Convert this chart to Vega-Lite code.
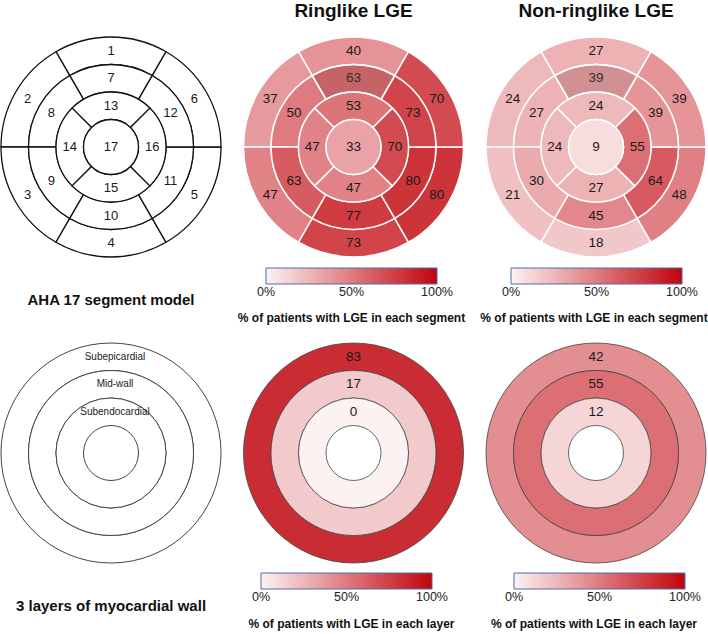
{
  "$schema": "https://vega.github.io/schema/vega-lite/v6.json",
  "width": 708,
  "height": 634,
  "autosize": {"type": "none"},
  "padding": 0,
  "background": "white",
  "config": {
    "view": {"stroke": null},
    "font": "Liberation Sans",
    "legend": {
      "gradientStrokeColor": "#4a6cb3",
      "gradientStrokeWidth": 1,
      "labelFont": "Liberation Sans",
      "labelFontSize": 12.5,
      "labelColor": "#222222",
      "labelOffset": 8,
      "padding": 0
    }
  },
  "datasets": {
    "segments": [
      {"seg": 1, "r1": 4, "r0": 3, "t0": -30, "t1": 30, "tm": 0, "rm": 3.5, "ringlike": 40, "nonringlike": 27},
      {"seg": 2, "r1": 4, "r0": 3, "t0": 270, "t1": 330, "tm": 300, "rm": 3.5, "ringlike": 37, "nonringlike": 24},
      {"seg": 3, "r1": 4, "r0": 3, "t0": 210, "t1": 270, "tm": 240, "rm": 3.5, "ringlike": 47, "nonringlike": 21},
      {"seg": 4, "r1": 4, "r0": 3, "t0": 150, "t1": 210, "tm": 180, "rm": 3.5, "ringlike": 73, "nonringlike": 18},
      {"seg": 5, "r1": 4, "r0": 3, "t0": 90, "t1": 150, "tm": 120, "rm": 3.5, "ringlike": 80, "nonringlike": 48},
      {"seg": 6, "r1": 4, "r0": 3, "t0": 30, "t1": 90, "tm": 60, "rm": 3.5, "ringlike": 70, "nonringlike": 39},
      {"seg": 7, "r1": 3, "r0": 2, "t0": -30, "t1": 30, "tm": 0, "rm": 2.5, "ringlike": 63, "nonringlike": 39},
      {"seg": 8, "r1": 3, "r0": 2, "t0": 270, "t1": 330, "tm": 300, "rm": 2.5, "ringlike": 50, "nonringlike": 27},
      {"seg": 9, "r1": 3, "r0": 2, "t0": 210, "t1": 270, "tm": 240, "rm": 2.5, "ringlike": 63, "nonringlike": 30},
      {"seg": 10, "r1": 3, "r0": 2, "t0": 150, "t1": 210, "tm": 180, "rm": 2.5, "ringlike": 77, "nonringlike": 45},
      {"seg": 11, "r1": 3, "r0": 2, "t0": 90, "t1": 150, "tm": 120, "rm": 2.5, "ringlike": 80, "nonringlike": 64},
      {"seg": 12, "r1": 3, "r0": 2, "t0": 30, "t1": 90, "tm": 60, "rm": 2.5, "ringlike": 73, "nonringlike": 39},
      {"seg": 13, "r1": 2, "r0": 1, "t0": -45, "t1": 45, "tm": 0, "rm": 1.5, "ringlike": 53, "nonringlike": 24},
      {"seg": 14, "r1": 2, "r0": 1, "t0": 225, "t1": 315, "tm": 270, "rm": 1.5, "ringlike": 47, "nonringlike": 24},
      {"seg": 15, "r1": 2, "r0": 1, "t0": 135, "t1": 225, "tm": 180, "rm": 1.5, "ringlike": 47, "nonringlike": 27},
      {"seg": 16, "r1": 2, "r0": 1, "t0": 45, "t1": 135, "tm": 90, "rm": 1.5, "ringlike": 70, "nonringlike": 55},
      {"seg": 17, "r1": 1, "r0": 0, "t0": 0, "t1": 360, "tm": 0, "rm": 0, "ringlike": 33, "nonringlike": 9}
    ],
    "layers": [
      {"layer": "Subepicardial", "r1": 4, "r0": 3, "t0": 0, "t1": 360, "tm": 0, "rm": 3.5, "ringlike": 83, "nonringlike": 42},
      {"layer": "Mid-wall", "r1": 3, "r0": 2, "t0": 0, "t1": 360, "tm": 0, "rm": 2.5, "ringlike": 17, "nonringlike": 55},
      {"layer": "Subendocardial", "r1": 2, "r0": 1, "t0": 0, "t1": 360, "tm": 0, "rm": 1.5, "ringlike": 0, "nonringlike": 12}
    ],
    "headers": [
      {"col": "Ringlike LGE"},
      {"col": "Non-ringlike LGE"}
    ],
    "panels": [
      {"row": "seg", "name": "AHA 17 segment model"},
      {"row": "layer", "name": "3 layers of myocardial wall"}
    ],
    "captions": [
      {"col": "Ringlike LGE", "row": "seg", "caption": "% of patients with LGE in each segment"},
      {"col": "Non-ringlike LGE", "row": "seg", "caption": "% of patients with LGE in each segment"},
      {"col": "Ringlike LGE", "row": "layer", "caption": "% of patients with LGE in each layer"},
      {"col": "Non-ringlike LGE", "row": "layer", "caption": "% of patients with LGE in each layer"}
    ]
  },
  "resolve": {"scale": {"color": "independent"}, "legend": {"color": "independent"}},
  "layer": [
    {
      "data": {"name": "segments"},
      "mark": {"type": "arc", "fill": "white", "stroke": "#111111", "strokeWidth": 1.3},
      "encoding": {
        "x": {"datum": "AHA", "type": "nominal", "axis": null, "scale": {"type": "point", "domain": ["AHA", "Ringlike LGE", "Non-ringlike LGE"], "range": [111, 596], "padding": 0}},
        "y": {"datum": "seg", "type": "nominal", "axis": null, "scale": {"type": "point", "domain": ["seg", "layer"], "range": [147, 453], "padding": 0}},
        "theta": {"field": "t0", "type": "quantitative", "stack": null, "scale": {"type": "linear", "domain": [0, 360], "range": [0, 6.283185307179586], "zero": false}},
        "theta2": {"field": "t1"},
        "radius": {"field": "r1", "type": "quantitative", "scale": {"type": "linear", "domain": [0, 4], "range": [0, 110], "zero": true}},
        "radius2": {"field": "r0"}
      }
    },
    {
      "data": {"name": "segments"},
      "mark": {"type": "text", "fontSize": 13, "color": "#1a1a1a", "baseline": "middle", "align": "center"},
      "encoding": {
        "x": {"datum": "AHA", "type": "nominal"},
        "y": {"datum": "seg", "type": "nominal"},
        "theta": {"field": "tm", "type": "quantitative", "stack": null},
        "radius": {"field": "rm", "type": "quantitative"},
        "text": {"field": "seg", "type": "nominal"}
      }
    },
    {
      "data": {"name": "segments"},
      "mark": {"type": "arc", "stroke": "white", "strokeWidth": 1.5},
      "encoding": {
        "x": {"datum": "Ringlike LGE", "type": "nominal"},
        "y": {"datum": "seg", "type": "nominal"},
        "theta": {"field": "t0", "type": "quantitative", "stack": null},
        "theta2": {"field": "t1"},
        "radius": {"field": "r1", "type": "quantitative"},
        "radius2": {"field": "r0"},
        "color": {"field": "ringlike", "type": "quantitative",
          "scale": {"domain": [0, 100], "range": ["#fdf2f2", "#c0040c"], "interpolate": "rgb"},
          "legend": {"orient": "none", "legendX": 266, "legendY": 268, "direction": "horizontal", "gradientLength": 171, "gradientThickness": 16, "values": [0, 50, 100], "labelExpr": "datum.value + '%'", "title": null,
            "encoding": {"labels": {"align": {"value": "center"}}}}}
      }
    },
    {
      "data": {"name": "segments"},
      "mark": {"type": "text", "fontSize": 13.5, "color": "#1a1a1a", "baseline": "middle", "align": "center"},
      "encoding": {
        "x": {"datum": "Ringlike LGE", "type": "nominal"},
        "y": {"datum": "seg", "type": "nominal"},
        "theta": {"field": "tm", "type": "quantitative", "stack": null},
        "radius": {"field": "rm", "type": "quantitative"},
        "text": {"field": "ringlike", "type": "quantitative"}
      }
    },
    {
      "data": {"name": "segments"},
      "mark": {"type": "arc", "stroke": "white", "strokeWidth": 1.5},
      "encoding": {
        "x": {"datum": "Non-ringlike LGE", "type": "nominal"},
        "y": {"datum": "seg", "type": "nominal"},
        "theta": {"field": "t0", "type": "quantitative", "stack": null},
        "theta2": {"field": "t1"},
        "radius": {"field": "r1", "type": "quantitative"},
        "radius2": {"field": "r0"},
        "color": {"field": "nonringlike", "type": "quantitative",
          "scale": {"domain": [0, 100], "range": ["#fdf2f2", "#c0040c"], "interpolate": "rgb"},
          "legend": {"orient": "none", "legendX": 511, "legendY": 268, "direction": "horizontal", "gradientLength": 171, "gradientThickness": 16, "values": [0, 50, 100], "labelExpr": "datum.value + '%'", "title": null,
            "encoding": {"labels": {"align": {"value": "center"}}}}}
      }
    },
    {
      "data": {"name": "segments"},
      "mark": {"type": "text", "fontSize": 13.5, "color": "#1a1a1a", "baseline": "middle", "align": "center"},
      "encoding": {
        "x": {"datum": "Non-ringlike LGE", "type": "nominal"},
        "y": {"datum": "seg", "type": "nominal"},
        "theta": {"field": "tm", "type": "quantitative", "stack": null},
        "radius": {"field": "rm", "type": "quantitative"},
        "text": {"field": "nonringlike", "type": "quantitative"}
      }
    },
    {
      "data": {"name": "segments"},
      "transform": [{"filter": "datum.seg === 7"}],
      "mark": {"type": "arc", "fill": "#808080", "fillOpacity": 0.2, "stroke": "white", "strokeWidth": 1.5},
      "encoding": {
        "x": {"datum": "Ringlike LGE", "type": "nominal"},
        "y": {"datum": "seg", "type": "nominal"},
        "theta": {"field": "t0", "type": "quantitative", "stack": null},
        "theta2": {"field": "t1"},
        "radius": {"field": "r1", "type": "quantitative"},
        "radius2": {"field": "r0"}
      }
    },
    {
      "data": {"name": "segments"},
      "transform": [{"filter": "datum.seg === 7"}],
      "mark": {"type": "arc", "fill": "#808080", "fillOpacity": 0.2, "stroke": "white", "strokeWidth": 1.5},
      "encoding": {
        "x": {"datum": "Non-ringlike LGE", "type": "nominal"},
        "y": {"datum": "seg", "type": "nominal"},
        "theta": {"field": "t0", "type": "quantitative", "stack": null},
        "theta2": {"field": "t1"},
        "radius": {"field": "r1", "type": "quantitative"},
        "radius2": {"field": "r0"}
      }
    },
    {
      "data": {"name": "layers"},
      "mark": {"type": "arc", "fill": "white", "stroke": "#444444", "strokeWidth": 1},
      "encoding": {
        "x": {"datum": "AHA", "type": "nominal"},
        "y": {"datum": "layer", "type": "nominal"},
        "theta": {"field": "t0", "type": "quantitative", "stack": null},
        "theta2": {"field": "t1"},
        "radius": {"field": "r1", "type": "quantitative"},
        "radius2": {"field": "r0"}
      }
    },
    {
      "data": {"name": "layers"},
      "mark": {"type": "text", "fontSize": 10, "color": "#1a1a1a", "baseline": "middle", "align": "center", "dx": 4},
      "encoding": {
        "x": {"datum": "AHA", "type": "nominal"},
        "y": {"datum": "layer", "type": "nominal"},
        "theta": {"field": "tm", "type": "quantitative", "stack": null},
        "radius": {"field": "rm", "type": "quantitative"},
        "text": {"field": "layer", "type": "nominal"}
      }
    },
    {
      "data": {"name": "layers"},
      "mark": {"type": "arc", "stroke": "#444444", "strokeWidth": 0.8},
      "encoding": {
        "x": {"datum": "Ringlike LGE", "type": "nominal"},
        "y": {"datum": "layer", "type": "nominal"},
        "theta": {"field": "t0", "type": "quantitative", "stack": null},
        "theta2": {"field": "t1"},
        "radius": {"field": "r1", "type": "quantitative"},
        "radius2": {"field": "r0"},
        "color": {"field": "ringlike", "type": "quantitative",
          "scale": {"domain": [0, 100], "range": ["#fdf2f2", "#c0040c"], "interpolate": "rgb"},
          "legend": {"orient": "none", "legendX": 261, "legendY": 573, "direction": "horizontal", "gradientLength": 171, "gradientThickness": 16, "values": [0, 50, 100], "labelExpr": "datum.value + '%'", "title": null,
            "encoding": {"labels": {"align": {"value": "center"}}}}}
      }
    },
    {
      "data": {"name": "layers"},
      "mark": {"type": "text", "fontSize": 13.5, "color": "#1a1a1a", "baseline": "middle", "align": "center"},
      "encoding": {
        "x": {"datum": "Ringlike LGE", "type": "nominal"},
        "y": {"datum": "layer", "type": "nominal"},
        "theta": {"field": "tm", "type": "quantitative", "stack": null},
        "radius": {"field": "rm", "type": "quantitative"},
        "text": {"field": "ringlike", "type": "quantitative"}
      }
    },
    {
      "data": {"name": "layers"},
      "mark": {"type": "arc", "stroke": "#444444", "strokeWidth": 0.8},
      "encoding": {
        "x": {"datum": "Non-ringlike LGE", "type": "nominal"},
        "y": {"datum": "layer", "type": "nominal"},
        "theta": {"field": "t0", "type": "quantitative", "stack": null},
        "theta2": {"field": "t1"},
        "radius": {"field": "r1", "type": "quantitative"},
        "radius2": {"field": "r0"},
        "color": {"field": "nonringlike", "type": "quantitative",
          "scale": {"domain": [0, 100], "range": ["#fdf2f2", "#c0040c"], "interpolate": "rgb"},
          "legend": {"orient": "none", "legendX": 514, "legendY": 573, "direction": "horizontal", "gradientLength": 171, "gradientThickness": 16, "values": [0, 50, 100], "labelExpr": "datum.value + '%'", "title": null,
            "encoding": {"labels": {"align": {"value": "center"}}}}}
      }
    },
    {
      "data": {"name": "layers"},
      "mark": {"type": "text", "fontSize": 13.5, "color": "#1a1a1a", "baseline": "middle", "align": "center"},
      "encoding": {
        "x": {"datum": "Non-ringlike LGE", "type": "nominal"},
        "y": {"datum": "layer", "type": "nominal"},
        "theta": {"field": "tm", "type": "quantitative", "stack": null},
        "radius": {"field": "rm", "type": "quantitative"},
        "text": {"field": "nonringlike", "type": "quantitative"}
      }
    },
    {
      "data": {"name": "headers"},
      "mark": {"type": "text", "fontSize": 19, "fontWeight": "bold", "color": "#111111", "baseline": "middle", "align": "center", "dy": -136},
      "encoding": {
        "x": {"field": "col", "type": "nominal"},
        "y": {"datum": "seg", "type": "nominal"},
        "text": {"field": "col", "type": "nominal"}
      }
    },
    {
      "data": {"name": "panels"},
      "mark": {"type": "text", "fontSize": 15, "fontWeight": "bold", "color": "#111111", "baseline": "middle", "align": "center", "dy": 153},
      "encoding": {
        "x": {"datum": "AHA", "type": "nominal"},
        "y": {"field": "row", "type": "nominal"},
        "text": {"field": "name", "type": "nominal"}
      }
    },
    {
      "data": {"name": "captions"},
      "mark": {"type": "text", "fontSize": 12, "fontWeight": "bold", "color": "#111111", "baseline": "middle", "align": "center", "dy": 171, "dx": -2},
      "encoding": {
        "x": {"field": "col", "type": "nominal"},
        "y": {"field": "row", "type": "nominal"},
        "text": {"field": "caption", "type": "nominal"}
      }
    }
  ]
}
